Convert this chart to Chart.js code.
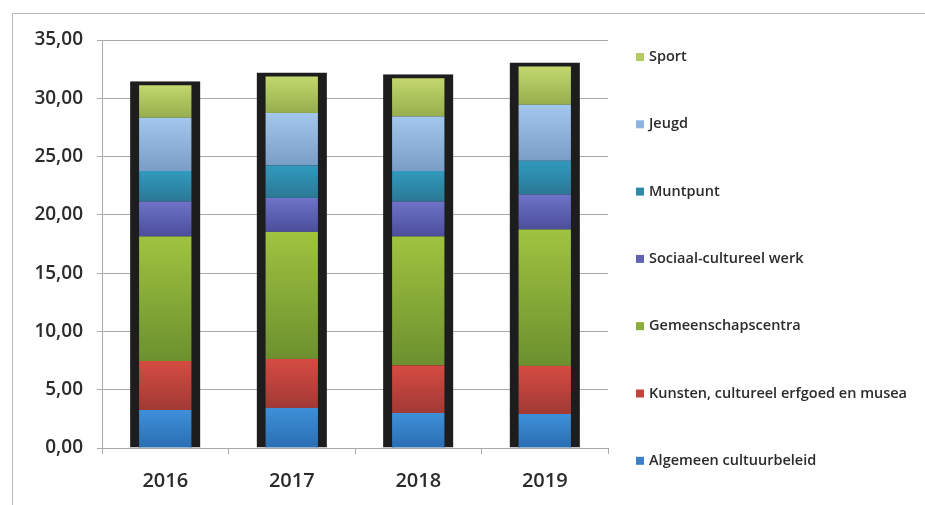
<!DOCTYPE html>
<html>
<head>
<meta charset="utf-8">
<script src="https://cdn.jsdelivr.net/npm/chart.js@4"></script>
<style>
  html, body { margin: 0; padding: 0; background: #fff; overflow: hidden; }
  #wrap { width: 925px; height: 505px; position: relative; }
</style>
</head>
<body>
<div id="wrap"><canvas id="chart"></canvas></div>
<script>
const years = ['2016', '2017', '2018', '2019'];
const yTicks = [0, 5, 10, 15, 20, 25, 30, 35];

// bottom of the stack first
const algemeen   = [3.2, 3.4, 2.95, 2.85];
const kunsten    = [4.2, 4.2, 4.1, 4.15];
const gemeensch  = [10.7, 10.9, 11.05, 11.7];
const sociaal    = [3.0, 2.9, 3.0, 3.0];
const muntpunt   = [2.6, 2.8, 2.6, 2.9];
const jeugd      = [4.6, 4.5, 4.7, 4.8];
const sport      = [3.1, 3.45, 3.6, 3.6];

const labels = [
  'Algemeen cultuurbeleid',
  'Kunsten, cultureel erfgoed en musea',
  'Gemeenschapscentra',
  'Sociaal-cultureel werk',
  'Muntpunt',
  'Jeugd',
  'Sport'
];
const series = [algemeen, kunsten, gemeensch, sociaal, muntpunt, jeugd, sport];

// top / bottom of each gradient, plus the legend swatch
const colors = [
  ['#3d90d8', '#2b6db2', '#3a7fc8'],
  ['#d54b42', '#a13934', '#c3423b'],
  ['#9fc33f', '#6c902e', '#8aad3a'],
  ['#6e73c8', '#4a4d99', '#5d62b4'],
  ['#3199bd', '#2a7893', '#2f88a8'],
  ['#a3c6ec', '#7a9dc6', '#8db3df'],
  ['#c6db70', '#96ad4c', '#b4cb62']
];

const ink = '#2b2b2b';
const grid = '#a9a9a9';

function shade(d) {
  return (c) => {
    const chart = c.chart;
    const y = chart.scales && chart.scales.y;
    if (!chart.chartArea || !y || c.type !== 'data') return colors[d][2];
    const i = c.dataIndex;
    let base = 0;
    for (let k = 0; k < d; k++) base += series[k][i];
    const y0 = y.getPixelForValue(base);
    const y1 = y.getPixelForValue(base + series[d][i]);
    const g = chart.ctx.createLinearGradient(0, y1, 0, y0);
    g.addColorStop(0, colors[d][0]);
    g.addColorStop(1, colors[d][1]);
    return g;
  };
}

// only the top segment gets a visible top edge; the tiny value on the others
// lets the fill overlap the segment above so no light seam shows
const datasets = series.map((values, d) => ({
  label: labels[d],
  data: values,
  backgroundColor: shade(d),
  borderColor: '#1d1d1d',
  borderWidth: { left: 9, right: 9, top: d === series.length - 1 ? 4 : 0.01, bottom: 0 },
  borderSkipped: false,
  inflateAmount: 0.7,
  categoryPercentage: 1,
  barPercentage: 0.545
}));

// outer frame + legend on the right
const frame = {
  id: 'frame',
  beforeDraw(chart) {
    const c = chart.ctx;
    c.save();
    c.fillStyle = '#fff';
    c.fillRect(0, 0, chart.width, chart.height);
    c.strokeStyle = '#b8b8b8';
    c.lineWidth = 1;
    c.beginPath();
    c.moveTo(12.5, chart.height);
    c.lineTo(12.5, 13.5);
    c.lineTo(chart.width, 13.5);
    c.stroke();
    c.restore();
  },
  afterDraw(chart) {
    const c = chart.ctx;
    c.save();
    c.font = '600 14.5px "Open Sans"';
    c.textBaseline = 'middle';
    for (let k = 0; k < labels.length; k++) {
      const d = labels.length - 1 - k;
      const y = 57 + k * 67.3;
      c.fillStyle = colors[d][2];
      c.fillRect(636, y - 4, 8, 8);
      c.fillStyle = ink;
      c.fillText(labels[d], 649, y);
    }
    c.restore();
  }
};

new Chart(document.getElementById('chart'), {
  type: 'bar',
  data: { labels: years, datasets },
  plugins: [frame],
  options: {
    responsive: true,
    maintainAspectRatio: false,
    animation: false,
    layout: { padding: { left: 0, right: 317, top: 40, bottom: 0 } },
    plugins: { legend: { display: false }, tooltip: { enabled: false } },
    scales: {
      x: {
        stacked: true,
        grid: { drawOnChartArea: false, drawTicks: true, tickLength: 6, offset: true, color: grid },
        border: { color: grid },
        ticks: { color: ink, font: { family: 'Open Sans', size: 20, weight: '600' }, padding: 15 },
        afterFit(s) { s.height = 57; }
      },
      y: {
        stacked: true,
        min: 0,
        max: 35,
        afterBuildTicks(s) { s.ticks = yTicks.map(v => ({ value: v })); },
        grid: { color: grid, tickLength: 5 },
        border: { color: grid },
        ticks: {
          color: ink,
          font: { family: 'Open Sans', size: 19, weight: '600' },
          padding: 14,
          callback: v => v.toFixed(2).replace('.', ',')
        },
        afterFit(s) { s.width = 102; }
      }
    }
  }
});
</script>
</body>
</html>
